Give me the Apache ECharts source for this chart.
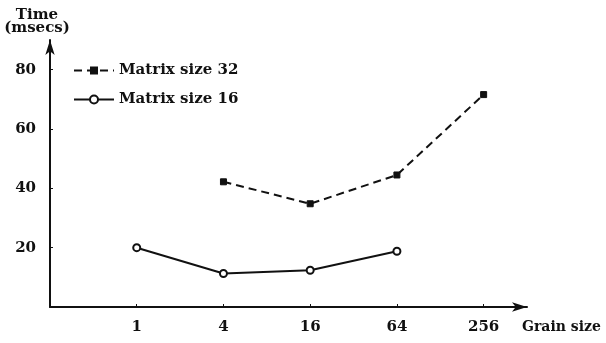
<!DOCTYPE html>
<html>
<head>
<meta charset="utf-8">
<script src="https://cdn.jsdelivr.net/npm/echarts@6/dist/echarts.min.js"></script>
<style>
html,body{margin:0;padding:0;background:#fff;}
#chart{width:606px;height:343px;}
</style>
</head>
<body>
<div id="chart"></div>
<script>
// Data
const grainSizes = [1, 4, 16, 64, 256];
const yTicks = [20, 40, 60, 80];
const seriesNames = ['Matrix size 32', 'Matrix size 16'];
const grain32 = [4, 16, 64, 256];
const time32 = [42.2, 34.8, 44.5, 71.6];
const grain16 = [1, 4, 16, 64];
const time16 = [20, 11.3, 12.4, 18.8];

const FONT = 'DejaVu Serif';
const INK = '#111';

const chart = echarts.init(document.getElementById('chart'), null, {renderer: 'canvas'});
chart.setOption({
  animation: false,
  backgroundColor: '#fff',
  textStyle: {fontFamily: FONT, color: INK},
  grid: {left: 50, right: 79, top: 40, bottom: 36, containLabel: false, outerBoundsMode: 'none'},
  legend: {
    orient: 'vertical',
    left: 68,
    top: 58,
    itemWidth: 40,
    itemHeight: 10,
    itemGap: 14,
    textStyle: {fontFamily: FONT, fontSize: 15, color: INK, fontWeight: 'bold'},
    data: seriesNames
  },
  xAxis: {
    type: 'log',
    logBase: 4,
    min: 0.25,
    max: 512,
    name: 'Grain size',
    nameLocation: 'end',
    nameGap: -5,
    nameTextStyle: {fontFamily: FONT, fontSize: 14, color: INK, fontWeight: 'bold', align: 'left', verticalAlign: 'top', padding: [13, 0, 0, 0]},
    axisLine: {show: true, lineStyle: {color: INK, width: 2}, symbol: ['none', 'arrow'], symbolSize: [7, 15], symbolOffset: [0, 0]},
    axisTick: {show: true, inside: true, length: 3, lineStyle: {color: INK}, customValues: grainSizes},
    axisLabel: {fontFamily: FONT, fontSize: 15, color: INK, fontWeight: 'bold', margin: 13, customValues: grainSizes,
      formatter: v => String(v)},
    splitLine: {show: false},
    minorTick: {show: false}
  },
  yAxis: {
    type: 'value',
    min: 0,
    max: 90,
    interval: 20,
    name: 'Time\n(msecs)',
    nameLocation: 'end',
    nameGap: 5,
    nameTextStyle: {fontFamily: FONT, fontSize: 15, color: INK, fontWeight: 'bold', align: 'center', lineHeight: 13, padding: [0, 26, 0, 0]},
    axisLine: {show: true, lineStyle: {color: INK, width: 2}, symbol: ['none', 'arrow'], symbolSize: [7, 15]},
    axisTick: {show: true, inside: true, length: 3, lineStyle: {color: INK}, customValues: yTicks},
    axisLabel: {fontFamily: FONT, fontSize: 15, color: INK, fontWeight: 'bold', margin: 14, customValues: yTicks},
    splitLine: {show: false}
  },
  series: [
    {
      name: seriesNames[0],
      type: 'line',
      data: grain32.map((g, i) => [g, time32[i]]),
      symbol: 'rect',
      symbolSize: 6,
      itemStyle: {color: INK, borderColor: INK},
      lineStyle: {color: INK, width: 2, type: [8, 5]},
      z: 3
    },
    {
      name: seriesNames[1],
      type: 'line',
      data: grain16.map((g, i) => [g, time16[i]]),
      symbol: 'circle',
      symbolSize: 7,
      showAllSymbol: true,
      itemStyle: {color: '#fff', borderColor: INK, borderWidth: 2},
      lineStyle: {color: INK, width: 2},
      z: 3
    }
  ]
});
</script>
</body>
</html>
